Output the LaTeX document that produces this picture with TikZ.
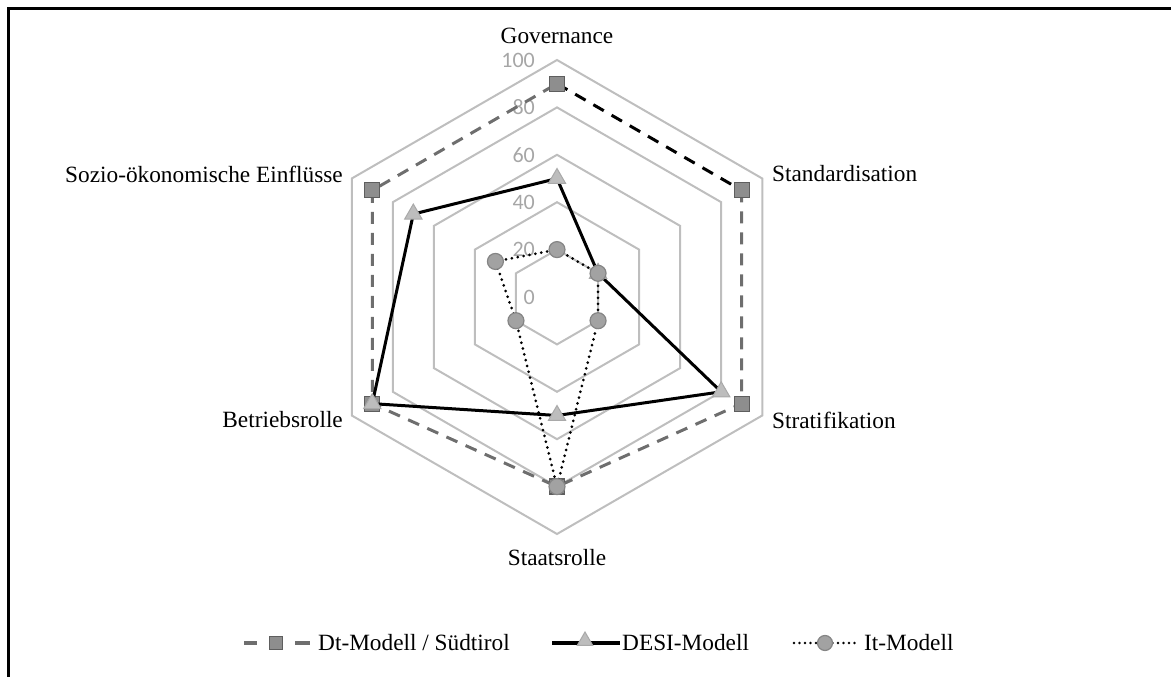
\documentclass[tikz,border=0pt]{standalone}
\usepackage{fontspec}
\setmainfont{Liberation Serif}
\newfontfamily\tickfont{Carlito}
\usetikzlibrary{shapes.geometric,calc}
\definecolor{gridc}{HTML}{BEBEBE}
\definecolor{tickc}{HTML}{A6A6A6}
\definecolor{dtc}{HTML}{6E6E6E}
\definecolor{sqfill}{HTML}{8E8E8E}
\definecolor{sqdraw}{HTML}{5E5E5E}
\definecolor{trfill}{HTML}{BDBDBD}
\definecolor{trdraw}{HTML}{A9A9A9}
\definecolor{cifill}{HTML}{A2A2A2}
\definecolor{cidraw}{HTML}{858585}
\tikzset{
  gridline/.style={draw=gridc, line width=2pt},
  ticklab/.style={font=\tickfont\fontsize{22}{22}\selectfont, text=tickc, anchor=east, inner sep=0pt},
  axislab/.style={font=\fontsize{23.3}{27}\selectfont, inner sep=0pt},
  leglab/.style={font=\fontsize{23.3}{27}\selectfont, inner sep=0pt, anchor=west},
  dtline/.style={draw=dtc, line width=3pt, dash pattern=on 12pt off 9pt},
  desiline/.style={draw=black, line width=3pt},
  itline/.style={draw=black, line width=3pt, dash pattern=on 0pt off 6pt, line cap=round},
  sqmark/.style={rectangle, fill=sqfill, draw=sqdraw, line width=1.2pt, minimum size=15pt, inner sep=0pt},
  trmark/.style={regular polygon, regular polygon sides=3, fill=trfill, draw=trdraw, line width=1pt, minimum size=20pt, inner sep=0pt},
  cimark/.style={circle, fill=cifill, draw=cidraw, line width=1.2pt, minimum size=16pt, inner sep=0pt},
}
\begin{document}
\begin{tikzpicture}[x=1pt,y=1pt]
\useasboundingbox (0,0) rectangle (1171,677);
\draw[line width=3pt] (8,0) -- (8,668) -- (1171,668);
\begin{scope}[shift={(557,380)}]
  % grid
  \foreach \v in {20,40,60,80,100}
    \draw[gridline] (90:{\v*2.37}) -- (30:{\v*2.37}) -- (-30:{\v*2.37}) -- (-90:{\v*2.37}) -- (210:{\v*2.37}) -- (150:{\v*2.37}) -- cycle;
  \foreach \v in {0,20,40,60,80,100}
    \node[ticklab] (t\v) at (-22,{\v*2.37}) {\v};
  % axis labels
  \node[axislab] (lG) at (0,261) {Governance};
  \node[axislab, anchor=west] (lS) at (215,123) {Standardisation};
  \node[axislab, anchor=west] (lT) at (215,-123) {Strati\kern0.5pt fikation};
  \node[axislab] (lA) at (0,-261) {Staatsrolle};
  \node[axislab, anchor=east] (lB) at (-214,-123) {Betriebsrolle};
  \node[axislab, anchor=east] (lZ) at (-214,123) {Sozio-ökonomische Einflüsse};
  % Dt series
  \coordinate (dG) at (90:{90*2.37});
  \coordinate (dS) at (30:{90*2.37});
  \coordinate (dT) at (-30:{90*2.37});
  \coordinate (dA) at (-90:{80*2.37});
  \coordinate (dB) at (210:{90*2.37});
  \coordinate (dZ) at (150:{90*2.37});
  \draw[dtline] (dS) -- (dT) -- (dA) -- (dB) -- (dZ) -- (dG);
  \draw[dtline, draw=black] (dG) -- (dS);
  \foreach \p in {dG,dS,dT,dA,dB,dZ} \node[sqmark] (m\p) at (\p) {};
  % DESI series
  \coordinate (eG) at (90:{50*2.37});
  \coordinate (eS) at (30:{20*2.37});
  \coordinate (eT) at (-30:{80*2.37});
  \coordinate (eA) at (-90:{50*2.37});
  \coordinate (eB) at (210:{90*2.37});
  \coordinate (eZ) at (150:{70*2.37});
  \draw[desiline] (eG) -- (eS) -- (eT) -- (eA) -- (eB) -- (eZ) -- cycle;
  \foreach \p in {eG,eS,eT,eA,eB,eZ} \node[trmark] (m\p) at (\p) {};
  % It series
  \coordinate (iG) at (90:{20*2.37});
  \coordinate (iS) at (30:{20*2.37});
  \coordinate (iT) at (-30:{20*2.37});
  \coordinate (iA) at (-90:{80*2.37});
  \coordinate (iB) at (210:{20*2.37});
  \coordinate (iZ) at (150:{30*2.37});
  \draw[itline] (iG) -- (iS) -- (iT) -- (iA) -- (iB) -- (iZ) -- cycle;
  \foreach \p in {iG,iS,iT,iA,iB,iZ} \node[cimark] (m\p) at (\p) {};
\end{scope}
% legend
\coordinate (a1) at (244,34);
\coordinate (a2) at (257,34);
\coordinate (a3) at (295,34);
\coordinate (a4) at (310,34);
\draw[draw=dtc, line width=3.5pt] (a1) -- (a2);
\draw[draw=dtc, line width=3.5pt] (a3) -- (a4);
\node[sqmark, minimum width=13pt, minimum height=13pt, line width=1.2pt] (k1) at (276,34) {};
\node[leglab] (g1) at (318,34) {Dt-Modell / Südtirol};
\coordinate (b1) at (552,34);
\coordinate (b2) at (620,34);
\draw[desiline, line width=3.5pt] (b1) -- (b2);
\node[trmark, minimum size=18pt] (k2) at (585,36) {};
\node[leglab] (g2) at (622,34) {DESI-Modell};
\coordinate (c1) at (794,34);
\coordinate (c2) at (857,34);
\draw[itline, dash pattern=on 0pt off 5.5pt, line width=2.8pt] (c1) -- (c2);
\node[cimark, minimum size=15pt] (k3) at (825,34) {};
\node[leglab] (g3) at (864,34) {It-Modell};
\end{tikzpicture}
\end{document}
